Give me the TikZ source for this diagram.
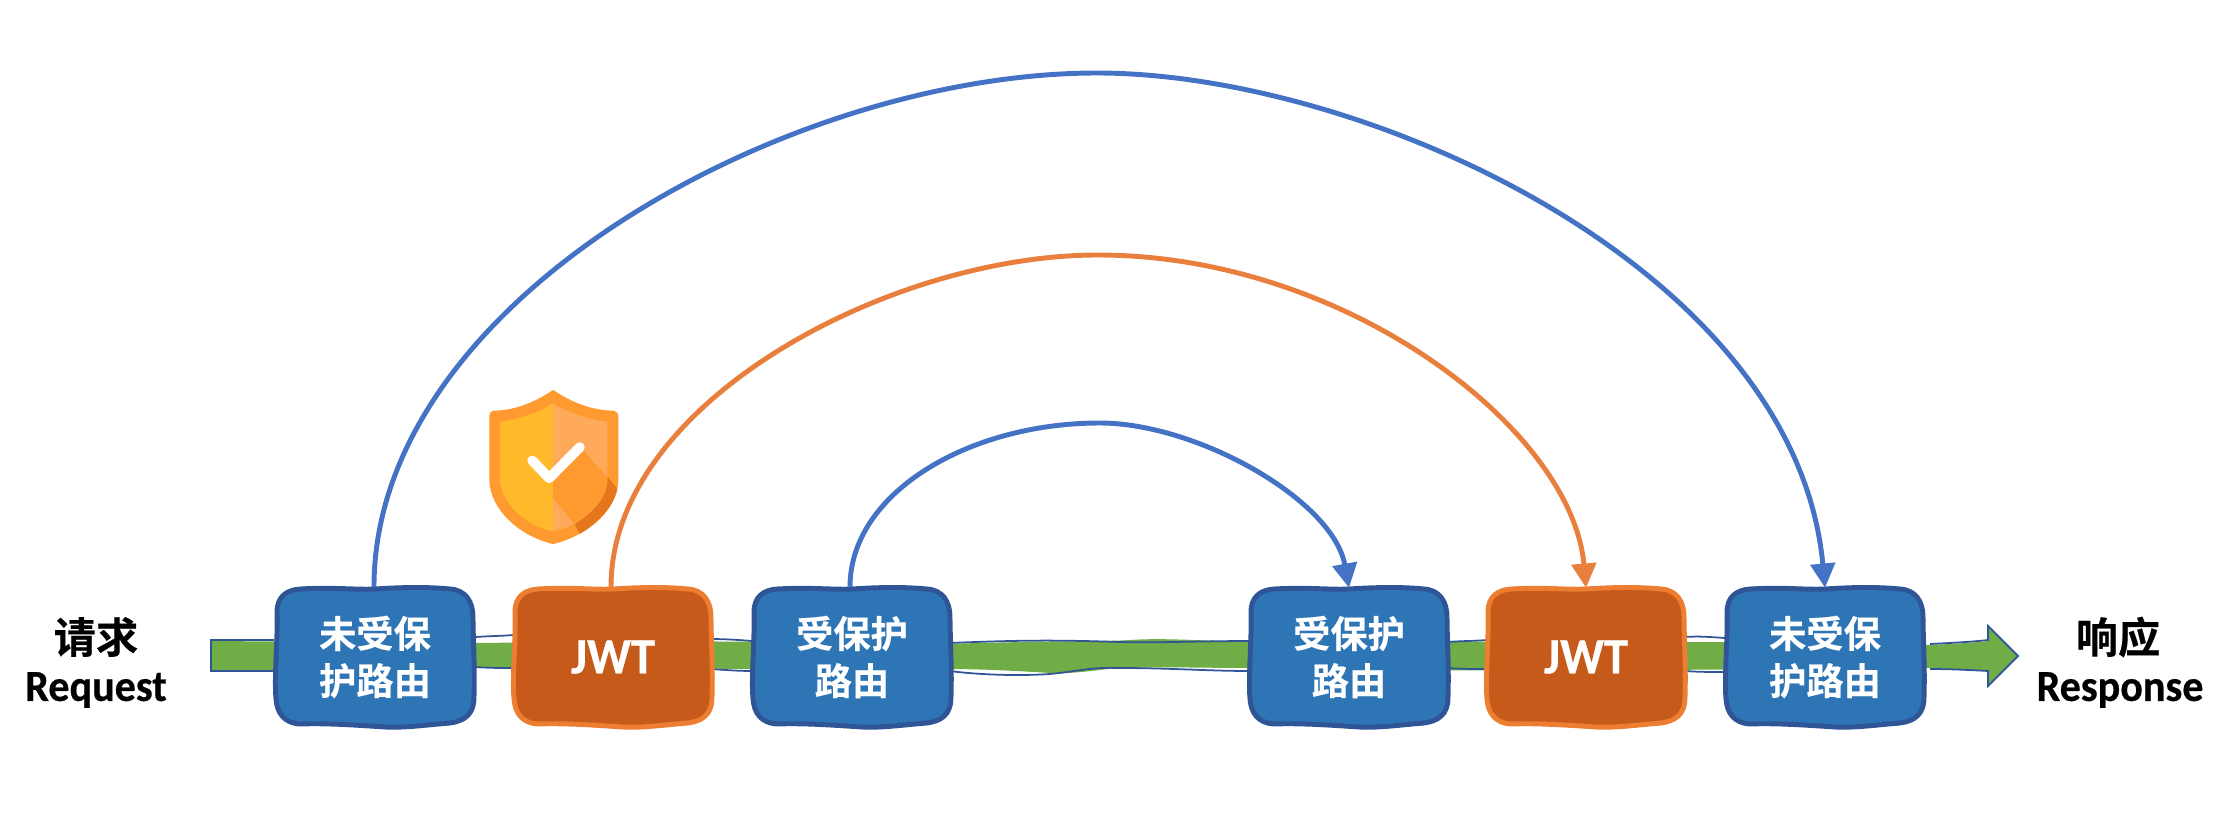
\documentclass[tikz,border=0pt]{standalone}
\usepackage{fontspec}
\setmainfont{Carlito}
\newfontfamily\latinbold[FakeStretch=0.95,FakeBold=0.5]{Carlito Bold}
\newfontfamily\cjkbold[FakeBold=0.4]{Noto Sans CJK SC Bold}
\definecolor{bfill}{HTML}{2E75B6}
\definecolor{bline}{HTML}{2F5597}
\definecolor{ofill}{HTML}{C55A1A}
\definecolor{oline}{HTML}{ED7D31}
\definecolor{arcblue}{HTML}{4472C4}
\definecolor{arcorange}{HTML}{E97F3C}
\definecolor{shaft}{HTML}{70AD47}
\definecolor{shO}{HTML}{FF9A30}
\definecolor{shY}{HTML}{FFB92B}
\definecolor{shL}{HTML}{FFA95A}
\definecolor{shD}{HTML}{E5761C}
\usetikzlibrary{arrows.meta}
\tikzset{
  x=0.01cm,y=-0.01cm,
  boxlabel/.style={text=white,font=\cjkbold\fontsize{10.6pt}{13.4pt}\selectfont,align=center,inner sep=0pt,minimum width=1.96cm,minimum height=1.37cm},
  jwtlabel/.style={boxlabel,font=\latinbold\fontsize{14.5pt}{17pt}\selectfont},
  sidelabel/.style={text=black,align=center,inner sep=0pt},
  cjklabel/.style={sidelabel,font=\cjkbold\fontsize{12pt}{14pt}\selectfont},
  latinlabel/.style={sidelabel,font=\latinbold\fontsize{12.6pt}{14pt}\selectfont},
  arcline/.style={line width=1.4pt,-{Triangle[length=6.9pt,width=6.9pt]}},
  shapeline/.style={line width=1.4pt,line join=round},
  thinline/.style={draw=bline,line width=0.5pt},
}
\newcommand{\wobblebox}[3]{%
  \path[shapeline,draw=#2,fill=#3,shift={(#1)}]
    (-75,-68) .. controls (-40,-70) and (-20,-67) .. (0,-68)
    .. controls (30,-70) and (55,-70) .. (75,-68)
    .. controls (91,-67) and (98,-55) .. (98,-40)
    .. controls (98,-20) and (100,10) .. (99,40)
    .. controls (99,58) and (89,64) .. (75,66)
    .. controls (50,68) and (30,71) .. (10,70)
    .. controls (-20,68) and (-50,66) .. (-75,67)
    .. controls (-91,66) and (-98,56) .. (-99,42)
    .. controls (-101,20) and (-97,-20) .. (-98,-45)
    .. controls (-98,-60) and (-89,-67) .. (-75,-68) -- cycle;
}
\begin{document}
\begin{tikzpicture}
\useasboundingbox (0,0) rectangle (2234,812);
% main arrow: green body
\fill[shaft] (211,641) -- (480,643) .. controls (700,640) and (850,642) .. (950,644)
  .. controls (1020,641) and (1100,642) .. (1130,640)
  .. controls (1160,638) and (1190,640) .. (1249,642)
  .. controls (1400,642) and (1700,640) .. (1930,645)
  .. controls (1950,644) and (1970,643) .. (1988,641)
  -- (1988,626) -- (2018,656) -- (1988,686) -- (1988,671)
  .. controls (1970,670) and (1950,669) .. (1930,668)
  .. controls (1700,670) and (1400,672) .. (1249,668)
  .. controls (1200,668) and (1150,666) .. (1108,669)
  .. controls (1090,671) and (1070,674) .. (1050,673)
  .. controls (1020,671) and (980,669) .. (950,669)
  .. controls (850,670) and (600,668) .. (475,667)
  -- (211,671) -- cycle;
% thin outline of the arrow, visible between the boxes
\draw[thinline] (274,640) -- (211,640) -- (211,671) -- (274,671);
\draw[thinline] (475,637) .. controls (490,636) and (500,636) .. (514,635);
\draw[thinline] (475,667) .. controls (490,668) and (500,668) .. (514,668);
\draw[thinline] (711,639) .. controls (725,639) and (740,640) .. (752,641);
\draw[thinline] (711,669) .. controls (725,670) and (740,671) .. (752,671);
\draw[thinline] (950,643) .. controls (1020,640) and (1060,640) .. (1120,642) .. controls (1160,643) and (1200,641) .. (1249,641);
\draw[thinline] (950,671) .. controls (980,675) and (1020,676) .. (1050,674) .. controls (1080,671) and (1090,667) .. (1120,668) .. controls (1170,668) and (1210,671) .. (1249,671);
\draw[thinline] (1447,642) .. controls (1460,641) and (1475,641) .. (1487,640);
\draw[thinline] (1447,668) .. controls (1460,669) and (1475,669) .. (1487,669);
\draw[thinline] (1684,637) .. controls (1700,636) and (1710,637) .. (1725,638);
\draw[thinline] (1684,671) .. controls (1700,672) and (1710,672) .. (1725,672);
\draw[thinline,line join=miter] (1930,644) .. controls (1950,643) and (1970,642) .. (1988,640)
  -- (1988,626) -- (2018,656) -- (1988,686) -- (1988,671)
  .. controls (1970,670) and (1950,669) .. (1930,669);
% boxes
\coordinate (b1) at (375,657);
\coordinate (b2) at (613,657);
\coordinate (b3) at (852,657);
\coordinate (b4) at (1349,657);
\coordinate (b5) at (1586,657);
\coordinate (b6) at (1825,657);
\wobblebox{b1}{bline}{bfill}
\wobblebox{b2}{oline}{ofill}
\wobblebox{b3}{bline}{bfill}
\wobblebox{b4}{bline}{bfill}
\wobblebox{b5}{oline}{ofill}
\wobblebox{b6}{bline}{bfill}
\node[boxlabel] (n1) at (b1) {未受保\\护路由};
\node[jwtlabel] (n2) at (b2) {JWT};
\node[boxlabel] (n3) at (b3) {受保护\\路由};
\node[boxlabel] (n4) at (b4) {受保护\\路由};
\node[jwtlabel] (n5) at (b5) {JWT};
\node[boxlabel] (n6) at (b6) {未受保\\护路由};
% side labels
\node[cjklabel] (req) at (96,637) {请求};
\node[latinlabel] (reqen) at (96,690) {Request};
\node[cjklabel] (res) at (2118,637) {响应};
\node[latinlabel] (resen) at (2120,690) {Response};
% arcs
\coordinate (t1) at (1097,73);
\coordinate (t2) at (1098,255);
\coordinate (t3) at (1100,423);
\draw[arcline,arcblue] (n1.north) ++(-1,-1) .. controls (374,299) and (789,73) .. (t1)
   .. controls (1364,73) and (1795,267) .. (n6.north);
\draw[arcline,arcorange] (n2.north) ++(-2,-1) .. controls (611,403) and (889,255) .. (t2)
   .. controls (1347,255) and (1572,430) .. (n5.north);
\draw[arcline,arcblue] (n3.north) ++(-2,-1) .. controls (850,494) and (967,423) .. (t3)
   .. controls (1197,423) and (1333,500) .. (n4.north);
% shield
\begin{scope}[shift={(460,370)},x=0.00333333cm,y=-0.00333333cm]
  \path[fill=shO] (280,60) .. controls (220,100) and (160,122) .. (100,122)
    .. controls (92,124) and (88,130) .. (88,140) -- (88,330)
    .. controls (90,420) and (180,500) .. (280,523)
    .. controls (380,500) and (475,420) .. (476,330) -- (476,140)
    .. controls (476,130) and (470,124) .. (462,122)
    .. controls (400,122) and (340,100) .. (280,60) -- cycle;
  \begin{scope}
    \clip (280,60) .. controls (220,100) and (160,122) .. (100,122)
    .. controls (92,124) and (88,130) .. (88,140) -- (88,330)
    .. controls (90,420) and (180,500) .. (280,523)
    .. controls (380,500) and (475,420) .. (476,330) -- (476,140)
    .. controls (476,130) and (470,124) .. (462,122)
    .. controls (400,122) and (340,100) .. (280,60) -- cycle;
    \fill[shD] (443,320) -- (490,380) -- (490,540) -- (365,500) -- (345,465) -- cycle;
  \end{scope}
  \path[fill=shY] (280,100) .. controls (230,130) and (180,148) .. (120,155)
    -- (120,330) .. controls (122,400) and (200,470) .. (280,485) -- cycle;
  \begin{scope}
    \clip (280,100) .. controls (330,130) and (385,148) .. (443,155)
    -- (443,330) .. controls (441,400) and (360,470) .. (280,485) -- cycle;
    \fill[shL] (270,90) rectangle (450,490);
    \fill[shO] (362,232) -- (450,330) -- (450,450) -- (345,465) -- (280,385) -- (268,325) -- cycle;
  \end{scope}
  \draw[white,line width=2.8pt,line cap=round,line join=round] (217,272) -- (268,325) -- (360,232);
\end{scope}
\end{tikzpicture}
\end{document}
